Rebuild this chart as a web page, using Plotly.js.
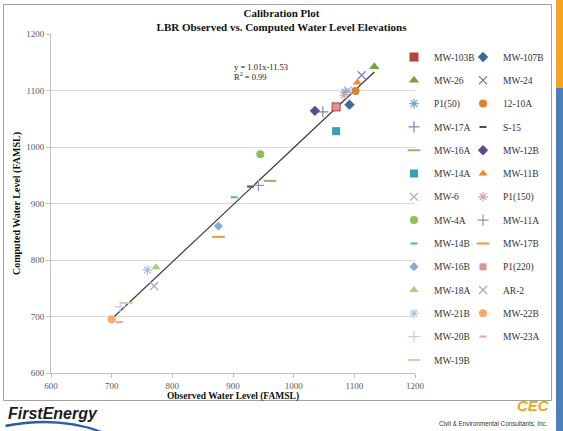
<!DOCTYPE html>
<html><head><meta charset="utf-8">
<script src="https://cdn.plot.ly/plotly-3.0.1.min.js"></script>
<style>html,body{margin:0;padding:0;background:#fff}#chart{width:563px;height:431px}</style>
</head><body><div id="chart"></div>
<script>
// ---- data ----
const wellNames = ["MW-103B","MW-107B","MW-26","MW-24","P1(50)","12-10A","MW-17A","S-15","MW-16A",
  "MW-12B","MW-14A","MW-11B","MW-6","P1(150)","MW-4A","MW-11A","MW-14B","MW-17B",
  "MW-16B","P1(220)","MW-18A","AR-2","MW-21B","MW-22B","MW-20B","MW-23A","MW-19B"];
const observedLevel = [1070,1092,1133,1112,1085,1102,1048,929,961,
  1035,1070,1105,1090,1083,945,942,902,876,
  876,1070,773,770,759,700,714,713,725];
const computedLevel = [1071,1075,1142,1127,1097,1099,1062,930,940,
  1064,1028,1114,1100,1092,987,932,911,841,
  860,1071,787,754,782,695,717,690,724];
const trendSlope = 1.01, trendIntercept = -11.53;
const axisTicks = [600,700,800,900,1000,1100,1200];

// ---- styles ----
const markerSymbols = ["square","diamond","triangle-up","x-thin-open","asterisk-open","circle","cross-thin-open","line-ew-open","line-ew-open",
  "diamond","square","triangle-up","x-thin-open","asterisk-open","circle","cross-thin-open","line-ew-open","line-ew-open",
  "diamond","square","triangle-up","x-thin-open","asterisk-open","circle","cross-thin-open","line-ew-open","line-ew-open"];
const markerColors = ["#B8403D","#41679E","#76A03A","#8578B2","#6FA6C6","#D9822F","#8C80B4","#2F5480","#B8A46A",
  "#5E4A8A","#35A0B6","#F08A30","#9FB3D8","#D7A3A3","#8DBF52","#8F93B5","#4FB0C8","#F5913E",
  "#8AA8D8","#D99694","#A9CE79","#ADA6C6","#A8C2E4","#F7A86F","#BFCDE6","#E3A5A5","#C3D9A0"];
const markerSizes = [9,8,9,8,8,8,8,5,9, 8,8,8,8,8,8,8,5,9, 7,7,8,8,8,8,8,5,9];

const serif = "Liberation Serif, Times New Roman, serif";
const traces = [];
wellNames.forEach((nm,i)=>{
  const open = markerSymbols[i].indexOf("open")>=0;
  traces.push({
    type:"scatter", mode:"markers", name:nm, legendgroup:nm,
    legend: (i%2===0) ? "legend" : "legend2",
    x:[observedLevel[i]], y:[computedLevel[i]],
    marker:{symbol:markerSymbols[i], size:markerSizes[i], color:markerColors[i],
      line: open ? {color:markerColors[i], width: markerSymbols[i]==="line-ew-open" ? 2 : 1.2} : {width:0}},
    hoverinfo:"skip"
  });
});
const xmin = Math.min(...observedLevel), xmax = Math.max(...observedLevel);
traces.unshift({type:"scatter", mode:"lines", showlegend:false, x:[xmin,xmax],
  y:[trendSlope*xmin+trendIntercept, trendSlope*xmax+trendIntercept],
  line:{color:"#3a3a3a", width:1.2}, hoverinfo:"skip"});

const legendCommon = {font:{family:serif,size:9.5,color:"#333"}, bgcolor:"rgba(0,0,0,0)",
  borderwidth:0, tracegroupgap:4.3, yanchor:"top", y:0.975, xanchor:"left"};

const layout = {
  width:563, height:431,
  margin:{l:51, r:148, t:34, b:58},
  paper_bgcolor:"#fff", plot_bgcolor:"#fff",
  font:{family:serif, color:"#000"},
  title:{text:"Calibration Plot<br>LBR Observed vs. Computed Water Level Elevations",
    font:{family:serif, size:11, color:"#111", weight:"bold"},
    x:0.5, xref:"container", xanchor:"center", y:0.961, yref:"container", yanchor:"top", pad:{t:0,b:0}},
  xaxis:{range:[600,1200], tickvals:axisTicks, ticktext:axisTicks.map(String), showgrid:false, zeroline:false,
    showline:true, linecolor:"#BFBFBF", linewidth:1, ticks:"outside", ticklen:4, tickcolor:"#BFBFBF",
    tickfont:{family:serif, size:9, color:"#595959"},
    title:{text:"Observed Water Level (FAMSL)", font:{family:serif, size:9.5, color:"#111", weight:"bold"}, standoff:0}},
  yaxis:{range:[600,1200], tickvals:axisTicks, ticktext:axisTicks.map(String), showgrid:true, gridcolor:"#D9D9D9", zeroline:false,
    showline:true, linecolor:"#BFBFBF", linewidth:1, ticks:"outside", ticklen:4, tickcolor:"#BFBFBF",
    tickfont:{family:serif, size:9, color:"#595959"},
    title:{text:"Computed Water Level (FAMSL)", font:{family:serif, size:10, color:"#111", weight:"bold"}, standoff:3}},
  legend:Object.assign({x:0.9423}, legendCommon),
  legend2:Object.assign({x:1.1319}, legendCommon),
  showlegend:true,
  shapes:[
    {type:"rect", xref:"paper", yref:"paper", x0:-0.1305, x1:1.375, y0:-0.0811, y1:1.087, line:{color:"#A0A0A0", width:1}, fillcolor:"rgba(0,0,0,0)"},
    {type:"rect", xref:"paper", yref:"paper", x0:1.3874, x1:1.42, y0:0.8407, y1:1.11, line:{width:0}, fillcolor:"#F5A31F"},
    {type:"rect", xref:"paper", yref:"paper", x0:1.3874, x1:1.42, y0:-0.18, y1:0.8407, line:{width:0}, fillcolor:"#4C7EBB"},
    {type:"path", xref:"paper", yref:"paper", path:"M -0.125 -0.160 Q 0.02 -0.13 0.14 -0.178 L 0.14 -0.171 Q 0.02 -0.122 -0.125 -0.152 Z", line:{width:0}, fillcolor:"#2B5EA8"}
  ],
  annotations:[
    {xref:"paper", yref:"paper", x:0.497, y:0.9035, xanchor:"left", yanchor:"middle", showarrow:false,
      text:"y = 1.01x-11.53", font:{family:serif, size:8.5, color:"#222"}},
    {xref:"paper", yref:"paper", x:0.497, y:0.876, xanchor:"left", yanchor:"middle", showarrow:false,
      text:"R<sup>2</sup> = 0.99", font:{family:serif, size:8.5, color:"#222"}},
    {xref:"paper", yref:"paper", x:-0.124, y:-0.1195, xanchor:"left", yanchor:"middle", showarrow:false,
      text:"<i><b>FirstEnergy</b></i>", font:{family:"Liberation Sans, Arial, sans-serif", size:16, color:"#1b1b2a"}},
    {xref:"paper", yref:"paper", x:1.375, y:-0.0945, xanchor:"right", yanchor:"middle", showarrow:false,
      text:"<i><b>CEC</b></i>", font:{family:"Liberation Sans, Arial, sans-serif", size:15, color:"#F0A81A"}},
    {xref:"paper", yref:"paper", x:1.372, y:-0.1475, xanchor:"right", yanchor:"middle", showarrow:false,
      text:"Civil & Environmental Consultants, Inc.", font:{family:"Liberation Sans, Arial, sans-serif", size:6.3, color:"#333"}}
  ]
};
Plotly.newPlot("chart", traces, layout, {displayModeBar:false, staticPlot:true});
</script></body></html>
